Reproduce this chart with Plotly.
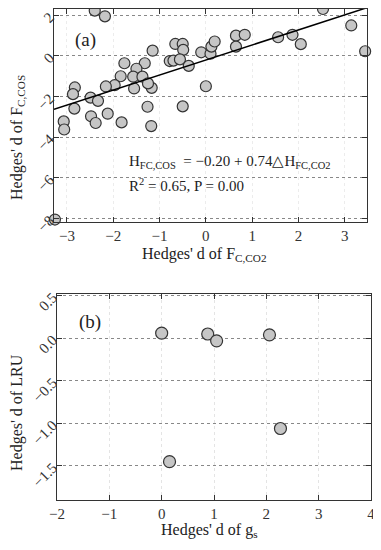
import plotly.graph_objects as go

# The page body has an 8px margin, so the figure is drawn 8px in from the
# top-left corner of the 381x550 window; size and place it accordingly.
OFF = 8
W, H = 381 - OFF, 550 - OFF

# Panel (a) data
fco2 = [-2.40, -2.18, -1.15, -1.76, -1.32, -1.50, -1.84, -1.57, -1.37, -1.97,
        -2.16, -1.55, -1.17, -1.25, -2.83, -2.87, -2.49, -2.33, -2.84, -1.26,
        -3.07, -3.06, -2.48, -2.38, -2.12, -1.82, -1.18, -3.26,
        -0.66, -0.50, -0.49, -0.78, -0.70, -0.56, -0.37, -0.10, 0.10, 0.12,
        0.19, 0.00, -0.50, 0.65, 0.84, 0.65,
        1.56, 1.87, 2.05, 2.53, 3.14, 3.44]
fcos = [2.23, 1.95, 0.26, -0.36, -0.36, -0.63, -1.00, -1.02, -1.02, -1.44,
        -1.50, -1.60, -1.57, -1.35, -1.55, -1.88, -2.05, -2.21, -2.59, -2.50,
        -3.22, -3.62, -2.97, -3.30, -2.84, -3.27, -3.45, -8.05,
        0.59, 0.59, 0.30, -0.25, -0.23, -0.17, -0.49, 0.18, 0.11, 0.46,
        0.71, -1.49, -2.48, 1.00, 1.04, 0.46,
        0.92, 1.04, 0.58, 2.31, 1.50, 0.23]
intercept, slope = -0.20, 0.74
xa_range = [-3.28, 3.48]
ya_range = [-8.17, 2.31]
ya_ticks = [-8, -6, -4, -2, 0, 2]
xa_ticks = [-3, -2, -1, 0, 1, 2, 3]

# Panel (b) data
gs = [0.00, 0.88, 1.05, 2.06, 2.27, 0.15]
lru = [0.06, 0.05, -0.03, 0.04, -1.06, -1.45]
xb_range = [-2, 4]
yb_range = [-1.9, 0.52]
yb_ticks = [-1.5, -1.0, -0.5, 0.0, 0.5]
xb_ticks = [-2, -1, 0, 1, 2, 3, 4]

FONT = "Liberation Serif"
fig = go.Figure()

def px(x):
    return (x - OFF) / W

def py(y):
    return 1 - (y - OFF) / H

mk = dict(size=11, color="#c6c6c6", line=dict(color="#333333", width=1.2))
fig.add_trace(go.Scatter(x=fco2, y=fcos, mode="markers", marker=mk,
                         xaxis="x", yaxis="y", cliponaxis=False, showlegend=False))
lx = xa_range
ly = [intercept + slope * v for v in lx]
fig.add_trace(go.Scatter(x=lx, y=ly, mode="lines", line=dict(color="black", width=1.5),
                         xaxis="x", yaxis="y", showlegend=False))
mkb = dict(size=12, color="#c6c6c6", line=dict(color="#333333", width=1.2))
fig.add_trace(go.Scatter(x=gs, y=lru, mode="markers", marker=mkb,
                         xaxis="x2", yaxis="y2", cliponaxis=False, showlegend=False))

axcommon = dict(showline=True, mirror="ticks", linecolor="#333333", linewidth=1.3,
                ticks="inside", ticklen=5, tickcolor="#333333", zeroline=False,
                automargin=False, ticklabeloverflow="allow",
                tickfont=dict(family=FONT, size=15, color="#333333"))

fig.update_layout(
    width=W, height=H, margin=dict(l=0, r=0, t=0, b=0),
    paper_bgcolor="white", plot_bgcolor="white",
    xaxis=dict(domain=[px(54), px(367)], range=xa_range, tickvals=xa_ticks,
               anchor="y", showgrid=True, gridcolor="#ececec", griddash="dot",
               **axcommon),
    yaxis=dict(domain=[py(222), py(9)], range=ya_range, tickvals=ya_ticks,
               anchor="x", showgrid=True, gridcolor="#888888", griddash="dot",
               tickangle=-45, **axcommon),
    xaxis2=dict(domain=[px(57), px(371)], range=xb_range, tickvals=xb_ticks,
                anchor="y2", showgrid=True, gridcolor="#e4e4e4", griddash="dot",
                **axcommon),
    yaxis2=dict(domain=[py(500), py(294)], range=yb_range, tickvals=yb_ticks,
                tickformat=".1f", anchor="x2", showgrid=True, gridcolor="#888888",
                griddash="dot", tickangle=-45, **axcommon),
)

def ann(text, x, y, size=15, angle=0, xanchor="center"):
    fig.add_annotation(text=text, x=px(x), y=py(y), xref="paper", yref="paper",
                       showarrow=False, textangle=angle, xanchor=xanchor, yanchor="middle",
                       font=dict(family=FONT, size=size, color="#222222"))

ann("(a)", 85, 40, size=19)
ann("(b)", 90, 322, size=19)
ann("H<sub>FC,COS</sub>  = \u22120.20 + 0.74\u25b3H<sub>FC,CO2</sub>", 127, 162, size=15, xanchor="left")
ann("R<sup>2</sup> = 0.65, P = 0.00", 127, 185, size=15, xanchor="left")
ann("Hedges' d of F<sub>C,CO2</sub>", 204, 255, size=16)
ann("Hedges' d of g<sub>s</sub>", 209, 530, size=16)
ann("Hedges' d of F<sub>C,COS</sub>", 18, 138, size=16, angle=-90)
ann("Hedges' d of LRU", 17, 413, size=16, angle=-90)

fig.write_html("out.html")
